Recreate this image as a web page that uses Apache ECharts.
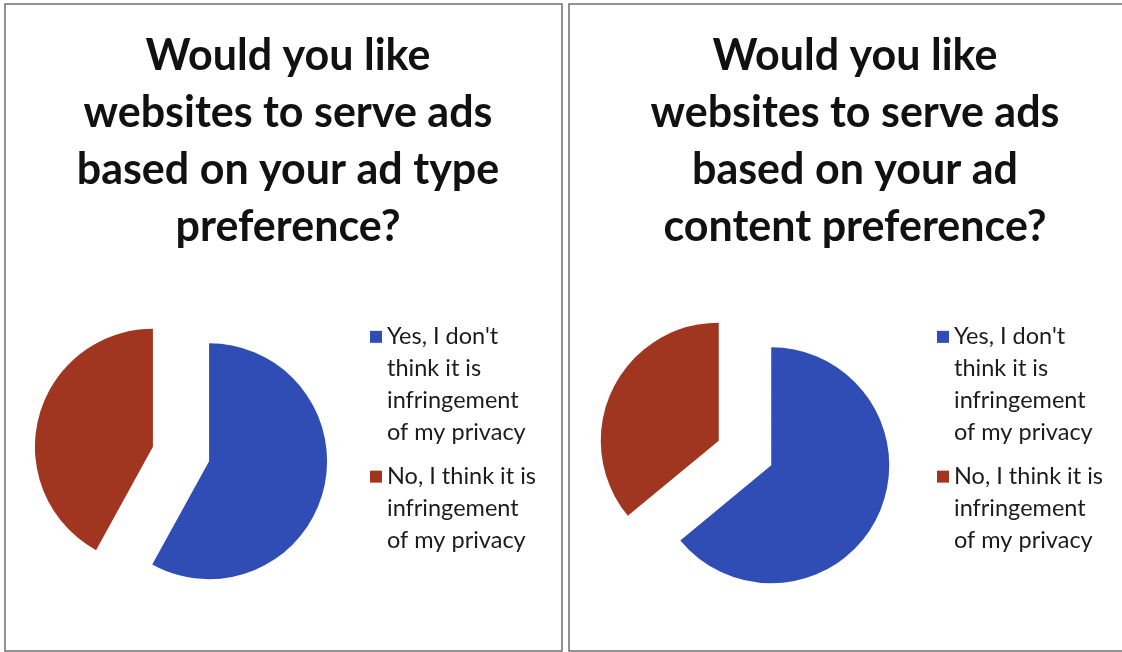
<!DOCTYPE html>
<html>
<head>
<meta charset="utf-8">
<script src="https://cdn.jsdelivr.net/npm/echarts@6/dist/echarts.min.js"></script>
<style>
  html, body { margin: 0; padding: 0; background: #ffffff; }
  #chart { width: 1122px; height: 652px; }
</style>
</head>
<body>
<div id="chart"></div>
<script>
// Survey answers (percent of respondents)
const categories = [
  "Yes, I don't think it is infringement of my privacy",
  "No, I think it is infringement of my privacy"
];
const legendLines = [
  ["Yes, I don't", "think it is", "infringement", "of my privacy"],
  ["No, I think it is", "infringement", "of my privacy"]
];
const adTypeValues = [58, 42];
const adContentValues = [64, 36];
const titles = [
  "Would you like\nwebsites to serve ads\nbased on your ad type\npreference?",
  "Would you like\nwebsites to serve ads\nbased on your ad\ncontent preference?"
];

const colors = ['#2f4db4', '#a0361f'];
const FONT = 'Lato, "Open Sans", sans-serif';

function legendFormatter(name) {
  const idx = categories.indexOf(name);
  return legendLines[idx]
    .map((l, i) => (i === 0 ? '{sq' + idx + '|}{gap|}' : '{ind|}') + '{t|' + l + '}')
    .join('\n');
}

const rich = {
  sq0: { width: 12, height: 12, backgroundColor: colors[0] },
  sq1: { width: 12, height: 12, backgroundColor: colors[1] },
  gap: { width: 5 },
  ind: { width: 17 },
  t: { fontSize: 23.5, fontFamily: FONT, color: '#1c1c1c', lineHeight: 31.7 }
};

function makeLegend(left) {
  return {
    orient: 'vertical',
    left: left,
    top: 316,
    icon: 'none',
    itemWidth: 0,
    itemHeight: 12,
    itemGap: 13,
    selectedMode: false,
    data: categories,
    formatter: legendFormatter,
    textStyle: { rich: rich, lineHeight: 31.7 }
  };
}

function makePie(center, values) {
  return {
    type: 'pie',
    center: center,
    radius: 118,
    startAngle: 90,
    clockwise: true,
    selectedMode: 'multiple',
    selectedOffset: 29,
    label: { show: false },
    labelLine: { show: false },
    emphasis: { disabled: true },
    animation: false,
    data: categories.map((name, i) => ({
      name: name,
      value: values[i],
      selected: true,
      itemStyle: { color: colors[i] }
    }))
  };
}

const titleStyle = { fontFamily: FONT, fontWeight: 'bold', fontSize: 43, lineHeight: 57, color: '#111111' };

const chart = echarts.init(document.getElementById('chart'));
chart.setOption({
  backgroundColor: '#ffffff',
  animation: false,
  color: colors,
  graphic: [
    { type: 'rect', shape: { x: 5, y: 4, width: 557, height: 647 },
      style: { fill: 'none', stroke: '#707070', lineWidth: 1.5 }, silent: true },
    { type: 'rect', shape: { x: 569, y: 4, width: 600, height: 647 },
      style: { fill: 'none', stroke: '#707070', lineWidth: 1.5 }, silent: true }
  ],
  title: [
    { text: titles[0], left: 283, top: 23, textAlign: 'center', textStyle: titleStyle },
    { text: titles[1], left: 850, top: 23, textAlign: 'center', textStyle: titleStyle }
  ],
  legend: [makeLegend(360), makeLegend(927)],
  series: [
    makePie([181, 454], adTypeValues),
    makePie([745, 453], adContentValues)
  ]
});
</script>
</body>
</html>
